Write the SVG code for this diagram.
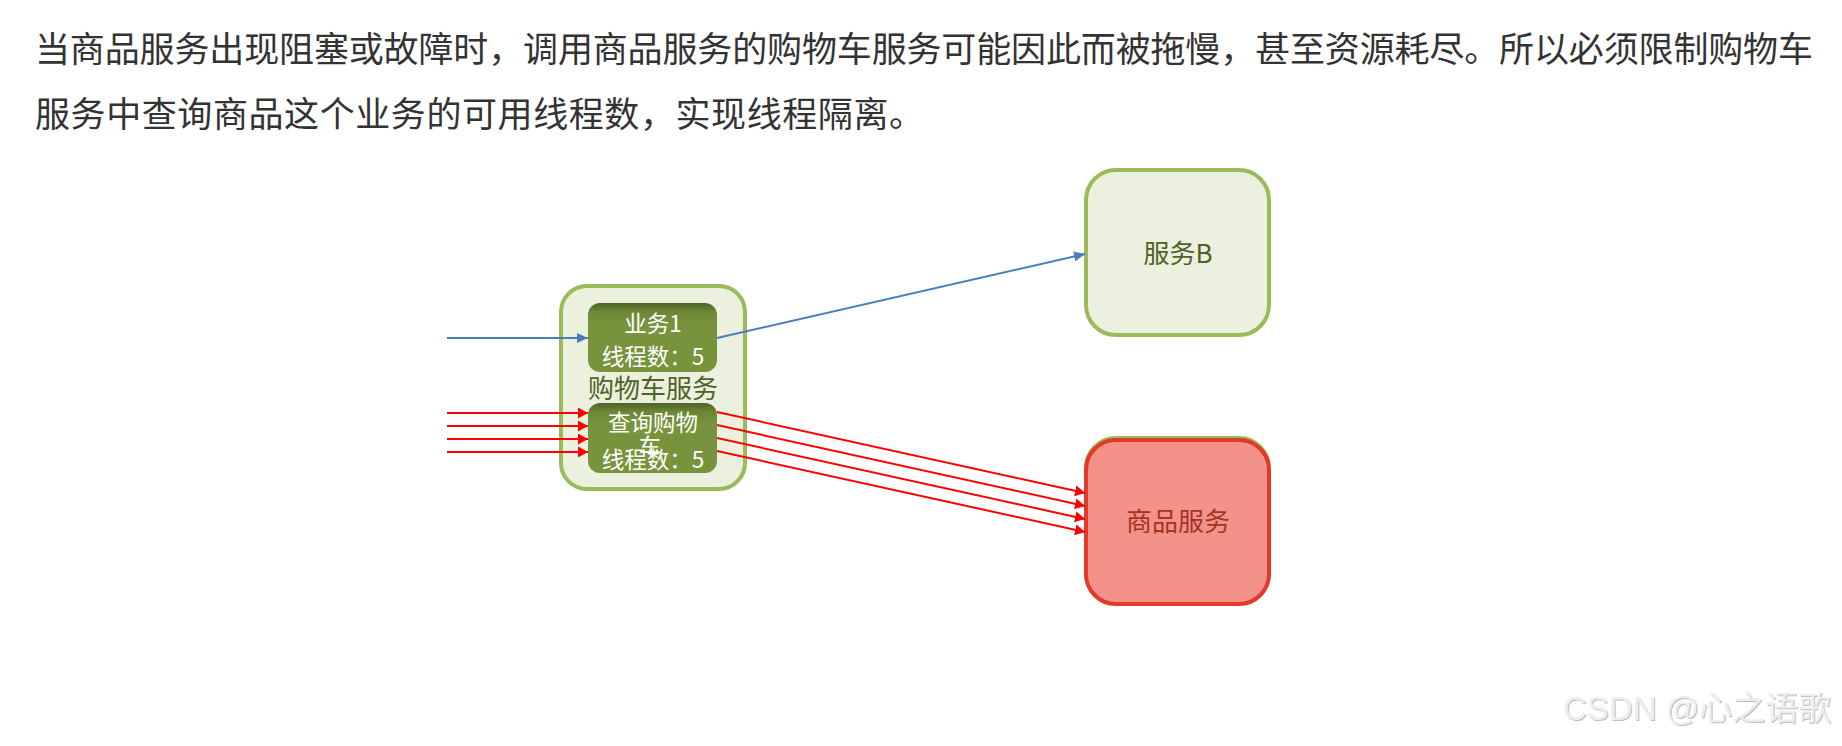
<svg xmlns="http://www.w3.org/2000/svg" width="1842" height="746" viewBox="0 0 1842 746">
<style>
.para{font-family:"Noto Sans CJK SC","Microsoft YaHei",sans-serif;font-size:35px;fill:#333333;}
.lbl{font-family:"Noto Sans CJK SC",sans-serif;text-anchor:middle;}
.inner{font-size:22.5px;fill:#ffffff;}
.big{font-size:26px;}
.wm{font-family:"Liberation Sans","Noto Sans CJK SC",sans-serif;font-size:33px;}
</style>
<defs>
<linearGradient id="gInner" x1="0" y1="0" x2="0" y2="1">
<stop offset="0" stop-color="#4F6228"/>
<stop offset="0.12" stop-color="#6B8735"/>
<stop offset="0.3" stop-color="#77933C"/>
<stop offset="1" stop-color="#77933C"/>
</linearGradient>
<marker id="aBlue" markerUnits="userSpaceOnUse" markerWidth="11" markerHeight="10" refX="11" refY="5" orient="auto">
<path d="M0,0 L11,5 L0,10 z" fill="#4A7EBB"/>
</marker>
<marker id="aRed" markerUnits="userSpaceOnUse" markerWidth="10" markerHeight="11" refX="10" refY="5.5" orient="auto">
<path d="M0,0 L10,5.5 L0,11 z" fill="#FF0000"/>
</marker>
</defs>
<rect width="1842" height="746" fill="#ffffff"/>
<g id="paragraph">
<text class="para" x="35" y="62" textLength="1778" lengthAdjust="spacing">当商品服务出现阻塞或故障时，调用商品服务的购物车服务可能因此而被拖慢，甚至资源耗尽。所以必须限制购物车</text>
<text class="para" x="35" y="127" textLength="889" lengthAdjust="spacing">服务中查询商品这个业务的可用线程数，实现线程隔离。</text>
</g>
<g id="cart-service">
<rect x="561" y="286" width="184" height="203" rx="26" fill="#EBF1DE" stroke="#9BBB59" stroke-width="4"/>
<text class="lbl big" x="653" y="398" fill="#4F6228">购物车服务</text>
</g>
<g id="biz1">
<rect x="588" y="303" width="129" height="69" rx="12" fill="url(#gInner)"/>
<text class="lbl inner" x="653" y="332">业务1</text>
<text class="lbl inner" x="653" y="365">线程数：5</text>
</g>
<g id="query-cart">
<rect x="588" y="403" width="129" height="70" rx="12" fill="url(#gInner)"/>
<text class="lbl inner" x="653" y="431">查询购物</text>
<text class="lbl inner" x="650" y="455">车</text>
<text class="lbl inner" x="653" y="468">线程数：5</text>
</g>
<g id="service-b">
<rect x="1086" y="170" width="183" height="165" rx="30" fill="#EBF1DE" stroke="#9BBB59" stroke-width="4"/>
<text class="lbl big" x="1178" y="263" fill="#4F6228">服务B</text>
</g>
<g id="goods-service">
<rect x="1086" y="438" width="183" height="165" rx="30" fill="none" stroke="#9BBB59" stroke-width="4"/>
<rect x="1086" y="440" width="183" height="164" rx="30" fill="#F39289" stroke="#E2392B" stroke-width="4"/>
<text class="lbl big" x="1178" y="531" fill="#A33524">商品服务</text>
</g>
<g id="connectors" stroke-width="2" fill="none">
<line x1="447" y1="338" x2="588" y2="338" stroke="#4A7EBB" marker-end="url(#aBlue)"/>
<line x1="717" y1="338" x2="1085" y2="254" stroke="#4A7EBB" marker-end="url(#aBlue)"/>
<line x1="447" y1="413" x2="588" y2="413" stroke="#FF0000" marker-end="url(#aRed)"/>
<line x1="447" y1="426" x2="588" y2="426" stroke="#FF0000" marker-end="url(#aRed)"/>
<line x1="447" y1="439" x2="588" y2="439" stroke="#FF0000" marker-end="url(#aRed)"/>
<line x1="447" y1="452" x2="588" y2="452" stroke="#FF0000" marker-end="url(#aRed)"/>
<line x1="717" y1="412" x2="1085" y2="493" stroke="#FF0000" marker-end="url(#aRed)"/>
<line x1="717" y1="425" x2="1085" y2="506" stroke="#FF0000" marker-end="url(#aRed)"/>
<line x1="717" y1="438" x2="1085" y2="519" stroke="#FF0000" marker-end="url(#aRed)"/>
<line x1="717" y1="451" x2="1085" y2="532" stroke="#FF0000" marker-end="url(#aRed)"/>
</g>
<g id="watermark">
<text class="wm" x="1564" y="721" fill="#bdbdbd">CSDN @心之语歌</text>
<text class="wm" x="1563" y="720" fill="#eeeeee">CSDN @心之语歌</text>
</g>
</svg>
